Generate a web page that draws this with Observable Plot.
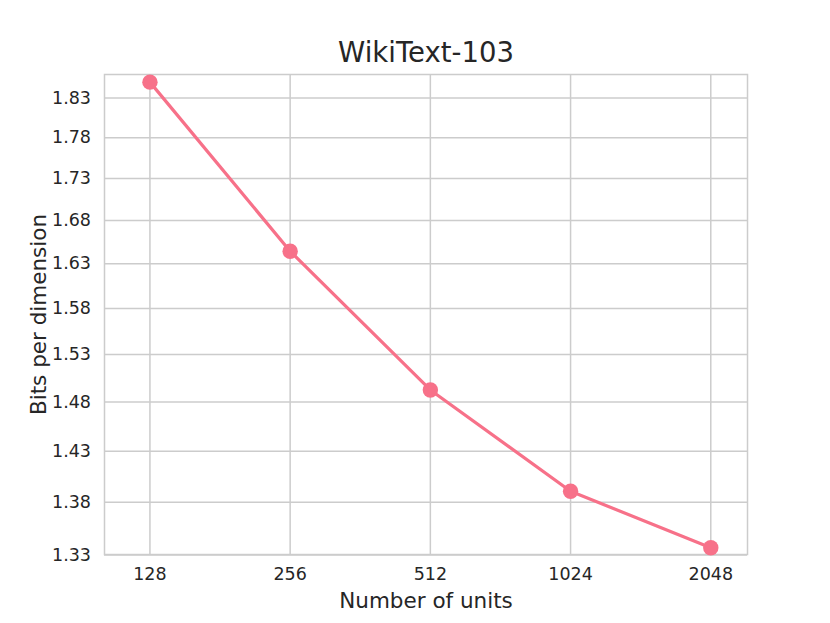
<!DOCTYPE html>
<html>
<head>
<meta charset="utf-8">
<script src="https://cdn.jsdelivr.net/npm/d3@7"></script>
<script src="https://cdn.jsdelivr.net/npm/@observablehq/plot@0.6"></script>
<style>
  html, body { margin: 0; padding: 0; background: white; }
</style>
</head>
<body>
<div id="chart"></div>
<script>
const title = "WikiText-103";
const xLabel = "Number of units";
const yLabel = "Bits per dimension";
const units = [128, 256, 512, 1024, 2048];
const bitsPerDim = [1.8505, 1.6444, 1.4925, 1.3906, 1.3368];
const yTicks = [1.33, 1.38, 1.43, 1.48, 1.53, 1.58, 1.63, 1.68, 1.73, 1.78, 1.83];

const data = units.map((u, i) => ({units: u, bpd: bitsPerDim[i]}));
const ink = "#262626";
const gridColor = "#cccccc";
const lineColor = "#f77189";

const chart = Plot.plot({
  width: 830,
  height: 623,
  marginLeft: 104,
  marginRight: 83,
  marginTop: 74,
  marginBottom: 69,
  style: {fontFamily: "DejaVu Sans", background: "white", color: ink},
  x: {type: "log", base: 2, domain: [102.25, 2455.6]},
  y: {type: "log", domain: [1.3305, 1.8604]},
  marks: [
    Plot.gridX(units, {stroke: gridColor, strokeOpacity: 1, strokeWidth: 1.5}),
    Plot.gridY(yTicks, {stroke: gridColor, strokeOpacity: 1, strokeWidth: 1.5}),
    Plot.frame({stroke: gridColor, strokeWidth: 1.5}),
    Plot.axisX(units, {tickSize: 0, tickPadding: 13, fontSize: 17.5, label: null, fill: ink, tickFormat: d => String(d)}),
    Plot.axisY(yTicks, {tickSize: 0, tickPadding: 13.5, fontSize: 17.5, label: null, fill: ink, tickFormat: d => d.toFixed(2)}),
    Plot.line(data, {x: "units", y: "bpd", stroke: lineColor, strokeWidth: 3.2}),
    Plot.dot(data, {x: "units", y: "bpd", fill: lineColor, r: 7.7, stroke: null}),
    Plot.text([title], {frameAnchor: "top", lineAnchor: "middle", dy: -21, fontSize: 27.5, fill: ink}),
    Plot.text([xLabel], {frameAnchor: "bottom", lineAnchor: "middle", dy: 47, fontSize: 21.5, fill: ink}),
    Plot.text([yLabel], {frameAnchor: "left", textAnchor: "middle", lineAnchor: "middle", dx: -65, rotate: -90, fontSize: 21.5, fill: ink})
  ]
});
document.getElementById("chart").appendChild(chart);
</script>
</body>
</html>
